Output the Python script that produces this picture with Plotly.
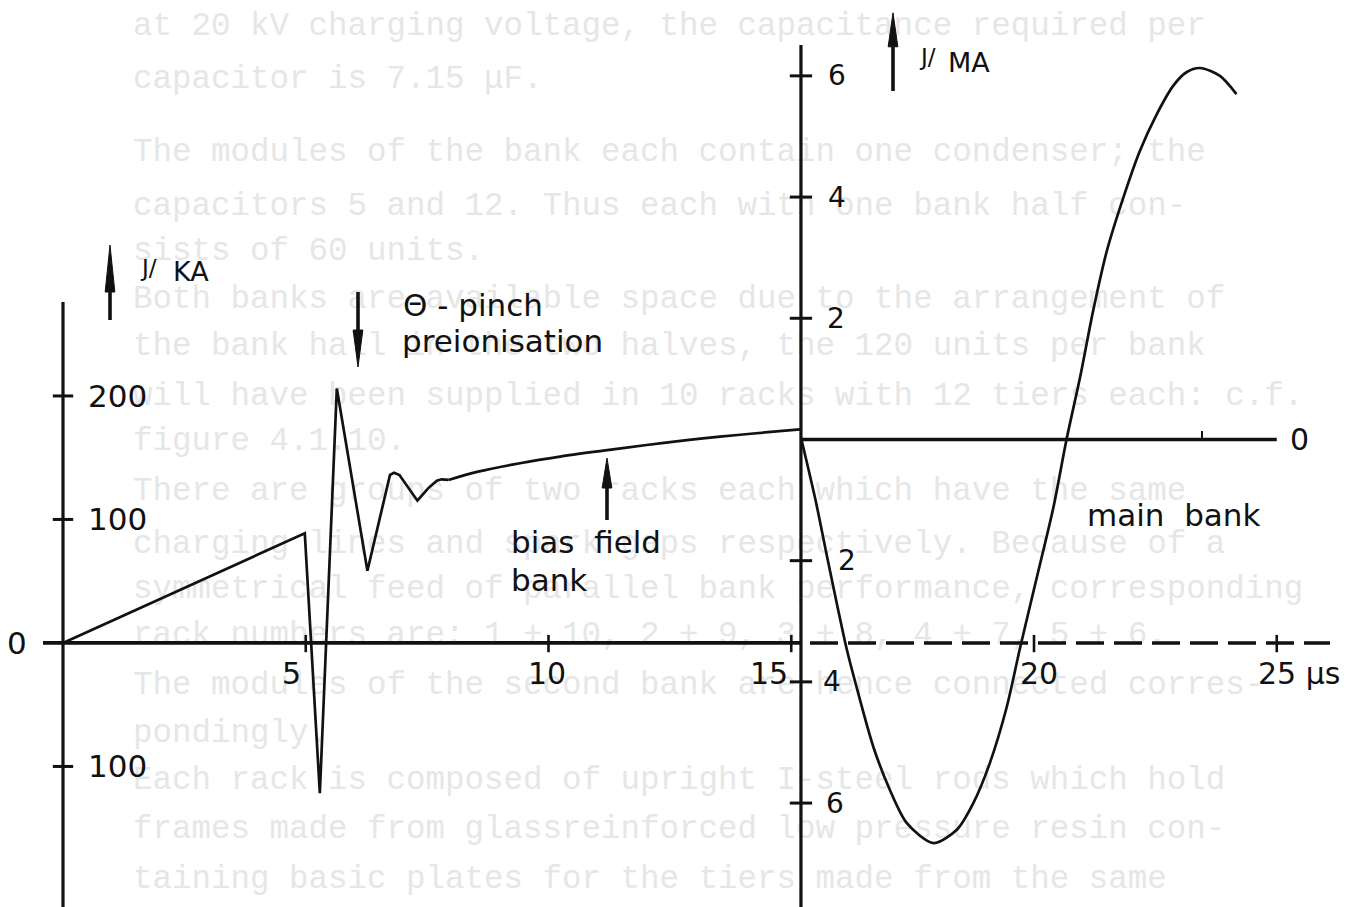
import plotly.graph_objects as go

# ---------------- data ----------------
# bias field bank current, kA (left scale)
bias_t = [0, 4.98, 5.29, 5.64, 6.27, 6.735, 6.82, 6.93, 7.30, 7.52, 7.70, 7.80, 7.94]
bias_kA = [0, 88.8, -121.7, 206, 58.5, 136, 137.9, 136, 115.2, 125.2, 131.4, 132.5, 132]
bias_smooth_t = [7.94, 8.55, 9.41, 10.24, 11.13, 12.02, 12.85, 13.53, 14.22, 15.18]
bias_smooth_kA = [132, 138.7, 145.5, 150.9, 155.7, 160.3, 164.2, 167.0, 169.6, 173]

# main bank current, MA (right scale, origin at t = 15.2 us)
main_t = [15.21, 15.50, 15.75, 16.14, 16.35, 16.69, 17.03, 17.38, 17.93, 18.41, 18.75,
          19.09, 19.44, 19.71, 20.06, 20.40, 20.67, 20.95, 21.22, 21.50, 21.84, 22.18,
          22.53, 22.87, 23.14, 23.42, 23.83, 24.17]
main_MA = [0, -1.0, -1.98, -3.45, -4.1, -5.07, -5.78, -6.33, -6.66, -6.44, -6.0,
           -5.34, -4.41, -3.45, -2.27, -1.12, 0, 1.03, 2.13, 3.11, 3.99, 4.76,
           5.37, 5.84, 6.06, 6.13, 6.0, 5.70]

main_origin_t = 15.2
main_zero_end_t = 25.0
main_zero_mark_t = 23.46

time_ticks = [5, 10, 15, 20, 25]
time_labels = ["5", "10", "15", "20", "25 µs"]
kA_ticks = [200, 100, -100]
kA_labels = ["200", "100", "100"]
MA_ticks = [6, 4, 2, -2, -4, -6]
MA_labels = ["6", "4", "2", "2", "4", "6"]

page_lines = [
    "at 20 kV charging voltage, the capacitance required per",
    "capacitor is 7.15 μF.",
    "The modules of the bank each contain one condenser; the",
    "capacitors 5 and 12. Thus each with one bank half con-",
    "sists of 60 units.",
    "Both banks are available space due to the arrangement of",
    "the bank hall in the two halves, the 120 units per bank",
    "will have been supplied in 10 racks with 12 tiers each: c.f.",
    "figure 4.1.10.",
    "There are groups of two racks each which have the same",
    "charging lines and spark gaps respectively. Because of a",
    "symmetrical feed of parallel bank performance, corresponding",
    "rack numbers are: 1 + 10, 2 + 9, 3 + 8, 4 + 7, 5 + 6.",
    "The modules of the second bank are hence connected corres-",
    "pondingly.",
    "Each rack is composed of upright I-steel rods which hold",
    "frames made from glassreinforced low pressure resin con-",
    "taining basic plates for the tiers made from the same",
]

# ---------------- layout / style ----------------
W, H = 1362, 907
X_RANGE = [-1.2976, 26.756]
KA_RANGE = [-213.8, 520.6]
MA_RANGE = [-7.715, 7.252]

def px_to_t(px):
    return X_RANGE[0] + px / W * (X_RANGE[1] - X_RANGE[0])

def py_to_kA(py):
    return KA_RANGE[1] - py / H * (KA_RANGE[1] - KA_RANGE[0])

def py_to_MA(py):
    return MA_RANGE[1] - py / H * (MA_RANGE[1] - MA_RANGE[0])

page_line_py = [27, 80, 153, 207, 252, 300, 347, 397, 442, 492, 545, 590, 636,
                686, 734, 781, 830, 880]

FONT = "DejaVu Sans"
TXT = 31
BLACK = "#111111"

fig = go.Figure()

# faint bleed-through typewriter text of the scanned page (behind everything)
fig.add_trace(go.Scatter(
    x=[px_to_t(133)] * len(page_lines),
    y=[py_to_kA(p) for p in page_line_py],
    mode="text", text=page_lines, textposition="middle right",
    textfont=dict(family="Liberation Mono", size=32.5, color="#e6e6e6"),
    hoverinfo="skip", showlegend=False,
))

fig.add_trace(go.Scatter(x=bias_t, y=bias_kA, mode="lines",
                         line=dict(color=BLACK, width=2.7), hoverinfo="skip"))
fig.add_trace(go.Scatter(x=bias_smooth_t, y=bias_smooth_kA, mode="lines",
                         line=dict(color=BLACK, width=2.7, shape="spline", smoothing=0.8),
                         hoverinfo="skip"))
fig.add_trace(go.Scatter(x=main_t, y=main_MA, mode="lines", yaxis="y2",
                         line=dict(color=BLACK, width=2.7, shape="spline", smoothing=0.8),
                         hoverinfo="skip"))

shapes = []

def line(x0, y0, x1, y1, yref="y", w=3.0, dash=None):
    d = dict(color=BLACK, width=w)
    if dash:
        d["dash"] = dash
    shapes.append(dict(type="line", xref="x", yref=yref, x0=x0, y0=y0, x1=x1, y1=y1,
                       line=d, layer="above"))

def arrow(x, y_tail, y_base, y_tip, yref="y", hw=0.1):
    line(x, y_tail, x, y_base, yref=yref, w=3.6)
    shapes.append(dict(type="path", xref="x", yref=yref,
                       path=f"M {x-hw},{y_base} L {x+hw},{y_base} L {x},{y_tip} Z",
                       fillcolor=BLACK, line=dict(color=BLACK, width=1), layer="above"))

# left (kA) axis and ticks
line(0, py_to_kA(302), 0, KA_RANGE[0] - 20, w=3.2)
for v in kA_ticks:
    line(-0.21, v, 0.21, v, w=3.0)
# time axis: solid up to main-bank origin, dashed beyond
line(px_to_t(43), 0, main_origin_t, 0, w=3.8)
line(px_to_t(810), 0, px_to_t(1330), 0, w=3.4, dash="28px,10px")
for t in time_ticks:
    line(t, -7.5, t, 6.5, w=2.6)
# right (MA) axis, ticks, zero line
line(main_origin_t, 6.51, main_origin_t, MA_RANGE[0] - 1, yref="y2", w=3.2)
for v in MA_ticks:
    line(main_origin_t - 0.23, v, main_origin_t + 0.23, v, yref="y2", w=3.0)
line(main_origin_t, 0, main_zero_end_t, 0, yref="y2", w=3.6)
line(main_zero_mark_t, 0, main_zero_mark_t, 0.14, yref="y2", w=2.0)

# arrows
arrow(px_to_t(110), py_to_kA(320), py_to_kA(292), py_to_kA(245))
arrow(px_to_t(358), py_to_kA(292), py_to_kA(330), py_to_kA(367))
arrow(px_to_t(607), py_to_kA(520), py_to_kA(488), py_to_kA(458))
arrow(px_to_t(893), 5.75, 6.48, 7.04, yref="y2")

ann = []

def label(text, x, y, yref="y", xanchor="left", xshift=0, yshift=0, size=30):
    ann.append(dict(text=text, x=x, y=y, xref="x", yref=yref, showarrow=False,
                    xanchor=xanchor, yanchor="middle", xshift=xshift, yshift=yshift,
                    font=dict(family=FONT, size=size, color=BLACK)))

for v, lab in zip(kA_ticks, kA_labels):
    label(lab, 0, v, xshift=23, size=31)
label("0", 0, 0, xanchor="right", xshift=-34, size=31)

ma_shift = [25, 25, 24, 35, 20, 23]
for v, lab, s in zip(MA_ticks, MA_labels, ma_shift):
    label(lab, main_origin_t, v, yref="y2", xshift=s, size=28)

t_shift = [-14, -2, -22, 5, -21]
for t, lab, s in zip(time_ticks, time_labels, t_shift):
    label(lab, t, 0, xanchor="left" if "µs" in lab else "center", xshift=s, yshift=-31,
          size=30)

label("0", main_zero_end_t, 0, yref="y2", xshift=11, size=30)

# unit labels J/kA and J/MA (small raised "J/")
label("J/", px_to_t(138), py_to_kA(268), size=23)
label("KA", px_to_t(171), py_to_kA(271), size=27)
label("J/", px_to_t(917), py_to_MA(57), yref="y2", size=23)
label("MA", px_to_t(946), py_to_MA(62), yref="y2", size=27)

label("Θ - pinch", px_to_t(401), py_to_kA(305), size=TXT)
label("preionisation", px_to_t(400), py_to_kA(341), size=TXT)
label("bias  field", px_to_t(509), py_to_kA(542), size=TXT)
label("bank", px_to_t(509), py_to_kA(580), size=TXT)
label("main  bank", main_origin_t, -1.25, yref="y2", xshift=284, size=TXT)

fig.update_layout(
    width=W, height=H, margin=dict(l=0, r=0, t=0, b=0),
    paper_bgcolor="white", plot_bgcolor="white", showlegend=False,
    xaxis=dict(range=X_RANGE, visible=False, fixedrange=True),
    yaxis=dict(range=KA_RANGE, visible=False, fixedrange=True),
    yaxis2=dict(range=MA_RANGE, visible=False, overlaying="y", fixedrange=True),
    shapes=shapes, annotations=ann,
)

fig.write_html("out.html", config={"displayModeBar": False})
